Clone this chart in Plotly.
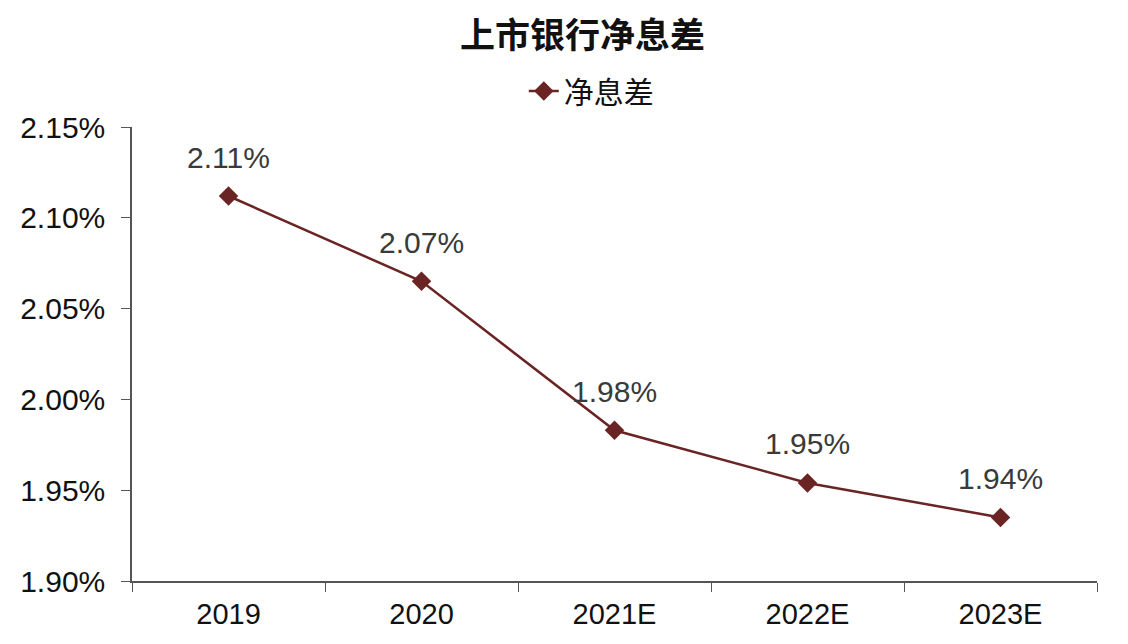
import plotly.graph_objects as go

categories = ["2019", "2020", "2021E", "2022E", "2023E"]
nim_values = [2.112, 2.065, 1.983, 1.954, 1.935]
value_labels = ["2.11%", "2.07%", "1.98%", "1.95%", "1.94%"]
y_ticks = [1.90, 1.95, 2.00, 2.05, 2.10, 2.15]
y_tick_labels = ["1.90%", "1.95%", "2.00%", "2.05%", "2.10%", "2.15%"]

line_color = "#6B2424"
font_latin = "Liberation Sans, Arial, sans-serif"
font_cjk = "Noto Sans CJK SC, sans-serif"

fig = go.Figure()
fig.add_trace(go.Scatter(
    x=categories, y=nim_values, mode="lines+markers", name="净息差",
    line=dict(color=line_color, width=2.5),
    marker=dict(symbol="diamond", size=15, color=line_color),
))

for i, (v, t) in enumerate(zip(nim_values, value_labels)):
    fig.add_annotation(x=i, y=v, text=t, showarrow=False, yshift=39,
                       font=dict(family=font_latin, size=30, color="#3a3a3a"))

fig.update_layout(
    width=1120, height=636,
    paper_bgcolor="white", plot_bgcolor="white",
    margin=dict(l=122, r=31, t=119, b=63),
    title=dict(text="<b>上市银行净息差</b>", x=0.513, xanchor="center", y=1 - 28 / 636, yanchor="middle",
               font=dict(family=font_cjk, size=35, color="#111111")),
    legend=dict(orientation="h", x=0.406, xanchor="left", y=1 + (119 - 83) / 454, yanchor="middle",
                font=dict(family=font_cjk, size=30, color="#111111"),
                bgcolor="rgba(0,0,0,0)"),
    showlegend=True,
)
fig.update_xaxes(
    type="category", showline=True, linecolor="#555555", linewidth=1.5,
    ticks="outside", tickson="boundaries", ticklen=9, tickcolor="#555555",
    showgrid=False, tickfont=dict(family=font_latin, size=29, color="#111111"),
    ticklabelstandoff=6,
    range=[-0.5, 4.5],
)
fig.update_yaxes(
    range=[1.90, 2.15], tickvals=y_ticks, ticktext=y_tick_labels,
    showline=True, linecolor="#555555", linewidth=1.5,
    ticks="outside", ticklen=9, tickcolor="#555555", showgrid=False,
    zeroline=False, tickfont=dict(family=font_latin, size=30, color="#111111"),
    ticklabelstandoff=10,
)

fig.write_html("out.html")
